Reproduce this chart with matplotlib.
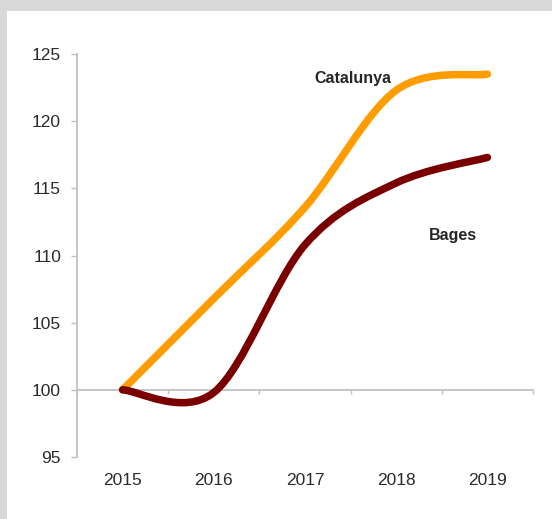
import numpy as np
import matplotlib
matplotlib.use("Agg")
import matplotlib.pyplot as plt
from matplotlib.path import Path
from matplotlib.patches import PathPatch, Rectangle

plt.rcParams['font.family'] = ['Liberation Sans', 'DejaVu Sans']

years = ['2015', '2016', '2017', '2018', '2019']
catalunya = [100, 106.8, 113.6, 122.3, 123.5]
bages = [100, 99.8, 110.8, 115.4, 117.3]


def smooth_path(xs, ys):
    # bezier segments through the points (Excel-like smoothed line)
    pts = np.column_stack([xs, ys]).astype(float)
    ext = np.vstack([pts[0], pts, pts[-1]])
    verts = [pts[0]]
    codes = [Path.MOVETO]
    for i in range(len(pts) - 1):
        p0, p1, p2, p3 = ext[i], ext[i + 1], ext[i + 2], ext[i + 3]
        verts += [p1 + (p2 - p0) / 6, p2 - (p3 - p1) / 6, p2]
        codes += [Path.CURVE4] * 3
    return Path(verts, codes)


fig = plt.figure(figsize=(5.52, 5.19), dpi=100)
fig.patch.set_facecolor('#d9d9d9')
fig.add_artist(Rectangle((7 / 552, 0), 1, (519 - 11) / 519,
                         transform=fig.transFigure, facecolor='white',
                         edgecolor='none', zorder=-10))

ax = fig.add_axes([77 / 552, 62 / 519, 456 / 552, 403 / 519])
ax.set_facecolor('none')
ax.set_zorder(1)

x = np.arange(len(years))
for vals, col in [(catalunya, '#ff9c00'), (bages, '#7a0000')]:
    ax.add_patch(PathPatch(smooth_path(x, vals), facecolor='none', edgecolor=col,
                           lw=5.4, capstyle='round', joinstyle='round', zorder=3))

ax.set_xlim(-0.5, 4.5)
ax.set_ylim(95, 125)
ax.set_yticks(np.arange(95, 126, 5))

ax.set_xticks(x)
ax.set_xticklabels(years)
ax.set_xticks(np.arange(-0.5, 5, 1), minor=True)

grey = '#c0c0c0'
for s in ['top', 'right']:
    ax.spines[s].set_visible(False)
ax.spines['left'].set_color(grey)
ax.spines['left'].set_linewidth(1.3)
ax.spines['bottom'].set_position(('data', 100))
ax.spines['bottom'].set_color(grey)
ax.spines['bottom'].set_linewidth(1.3)

ax.tick_params(axis='y', length=4.5, width=1, color=grey, pad=7,
               labelsize=12.5, labelcolor='#2b2b2b')
ax.tick_params(axis='x', which='major', length=0, pad=60,
               labelsize=12.5, labelcolor='#2b2b2b')
ax.tick_params(axis='x', which='minor', length=3, width=1, color=grey)

ax.text(2.53, 123.2, 'Catalunya', ha='center', va='center', fontsize=11.5,
        fontweight='bold', color='#262626')
ax.text(3.62, 111.5, 'Bages', ha='center', va='center', fontsize=11.5,
        fontweight='bold', color='#262626')

fig.savefig('out.png', dpi=100)
